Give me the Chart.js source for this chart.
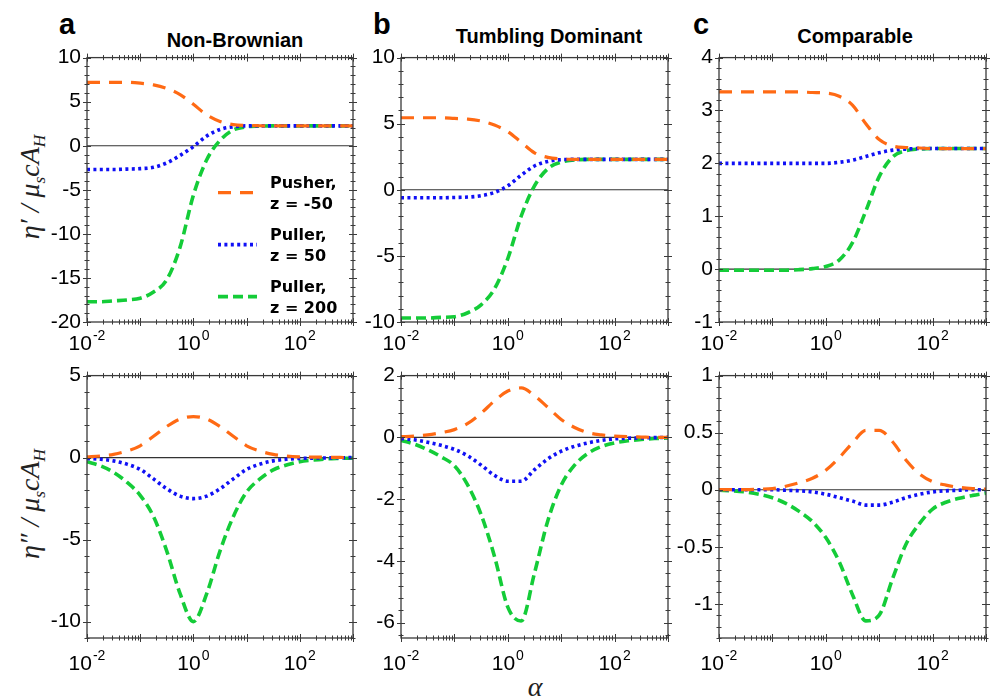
<!DOCTYPE html>
<html>
<head>
<meta charset="utf-8">
<script src="https://cdn.jsdelivr.net/npm/chart.js@4.4.1/dist/chart.umd.min.js"></script>
<style>
  body { margin: 0; background: #fff; }
  #wrap { position: relative; width: 990px; height: 696px; overflow: hidden; background: #fff; }
  canvas { position: absolute; }
  .txt { position: absolute; white-space: nowrap; line-height: 1; color: #000; }
  .letter { font: bold 29px "Liberation Sans", Arial, sans-serif; }
  .title { font: bold 20px "Liberation Sans", Arial, sans-serif; transform: translateX(-50%); }
  .ylab { font: italic 28px "Liberation Serif", serif; color: #222; transform: translate(-50%, -50%) rotate(-90deg); }
  .ylab sub { font-size: 0.62em; vertical-align: -0.3em; }
  .xlab { font: italic 28px "Liberation Serif", serif; color: #222; transform: translateX(-50%); }
</style>
</head>
<body>
<div id="wrap">
  <div class="txt letter" style="left:59px;top:8px">a</div>
  <div class="txt letter" style="left:373px;top:8px">b</div>
  <div class="txt letter" style="left:693px;top:8px">c</div>
  <div class="txt title" style="left:235px;top:29px">Non-Brownian</div>
  <div class="txt title" style="left:549px;top:25px">Tumbling Dominant</div>
  <div class="txt title" style="left:855px;top:25px">Comparable</div>
  <div class="txt ylab" style="left:32px;top:187px">η′ / μ<sub>s</sub>cA<sub>H</sub></div>
  <div class="txt ylab" style="left:32px;top:504px">η″ / μ<sub>s</sub>cA<sub>H</sub></div>
  <div class="txt xlab" style="left:535px;top:671px">α</div>
</div>
<script>
// shared alpha grid (quarter decades)
const alpha = [0.01, 0.0178, 0.0316, 0.0562, 0.1, 0.178, 0.316, 0.562, 1, 1.78, 3.16, 5.62,
  10, 17.8, 31.6, 56.2, 100, 178, 316, 562, 1000];

// top row: eta'
const pusherA = [7.2, 7.2, 7.2, 7.2, 7.1, 6.9, 6.5, 5.8, 4.7, 3.5, 2.75, 2.4, 2.3, 2.27, 2.25, 2.25, 2.25, 2.25, 2.25, 2.25, 2.25];
const pullerA = [-2.7, -2.7, -2.7, -2.65, -2.6, -2.45, -1.95, -1.1, -0.1, 1.1, 1.85, 2.15, 2.25, 2.25, 2.25, 2.25, 2.25, 2.25, 2.25, 2.25, 2.25];
const puller200A = [-17.7, -17.7, -17.6, -17.5, -17.3, -16.6, -15.2, -11.5, -5.6, -1.6, 0.6, 1.8, 2.15, 2.22, 2.25, 2.25, 2.25, 2.25, 2.25, 2.25, 2.25];

const pusherB = [5.45, 5.45, 5.45, 5.45, 5.4, 5.35, 5.2, 4.9, 4.4, 3.6, 2.8, 2.45, 2.33, 2.3, 2.3, 2.3, 2.3, 2.3, 2.3, 2.3, 2.3];
const pullerB = [-0.6, -0.6, -0.6, -0.6, -0.58, -0.55, -0.45, -0.2, 0.3, 1.1, 1.8, 2.15, 2.28, 2.3, 2.3, 2.3, 2.3, 2.3, 2.3, 2.3, 2.3];
const puller200B = [-9.7, -9.7, -9.7, -9.65, -9.6, -9.3, -8.7, -7.5, -5.2, -2.0, 0.3, 1.6, 2.1, 2.25, 2.3, 2.3, 2.3, 2.3, 2.3, 2.3, 2.3];

const pusherC = [3.35, 3.35, 3.35, 3.35, 3.35, 3.35, 3.35, 3.34, 3.33, 3.27, 3.1, 2.75, 2.45, 2.33, 2.3, 2.29, 2.28, 2.28, 2.28, 2.28, 2.28];
const pullerC = [2.0, 2.0, 2.0, 2.0, 2.0, 2.0, 2.0, 2.0, 2.0, 2.02, 2.06, 2.13, 2.2, 2.25, 2.27, 2.28, 2.28, 2.28, 2.28, 2.28, 2.28];
const puller200C = [-0.02, -0.02, -0.02, -0.02, -0.02, -0.02, -0.01, 0.01, 0.05, 0.17, 0.5, 1.1, 1.75, 2.12, 2.24, 2.27, 2.28, 2.28, 2.28, 2.28, 2.28];

// bottom row: eta''
const pusherA2 = [0.05, 0.1, 0.2, 0.4, 0.72, 1.3, 1.9, 2.35, 2.5, 2.35, 1.9, 1.3, 0.72, 0.4, 0.2, 0.1, 0.05, 0.03, 0.02, 0.01, 0];
const pullerA2 = [-0.05, -0.1, -0.2, -0.4, -0.72, -1.3, -1.9, -2.35, -2.5, -2.35, -1.9, -1.3, -0.72, -0.4, -0.2, -0.1, -0.05, -0.03, -0.02, -0.01, 0];
const puller200A2 = [-0.25, -0.5, -0.9, -1.5, -2.3, -3.6, -5.7, -8.3, -10, -8.3, -5.7, -3.6, -2.1, -1.3, -0.75, -0.45, -0.25, -0.15, -0.08, -0.05, -0.03];

const pusherB2 = [0.02, 0.04, 0.08, 0.15, 0.25, 0.45, 0.78, 1.18, 1.5, 1.6, 1.35, 0.97, 0.58, 0.32, 0.15, 0.08, 0.04, 0.02, 0.01, 0, 0];
const pullerB2 = [-0.04, -0.08, -0.16, -0.26, -0.39, -0.6, -0.9, -1.23, -1.42, -1.42, -1.05, -0.7, -0.45, -0.29, -0.18, -0.1, -0.05, -0.03, -0.02, -0.01, 0];
const puller200B2 = [-0.1, -0.22, -0.4, -0.63, -0.92, -1.55, -2.5, -3.85, -5.5, -5.95, -4.4, -2.7, -1.55, -0.9, -0.52, -0.3, -0.18, -0.11, -0.07, -0.04, -0.02];

const pusherC2 = [0, 0, 0, 0.005, 0.01, 0.03, 0.06, 0.1, 0.17, 0.28, 0.41, 0.52, 0.52, 0.42, 0.26, 0.14, 0.07, 0.04, 0.02, 0.01, 0.005];
const pullerC2 = [0, 0, 0, 0, 0, -0.005, -0.01, -0.02, -0.04, -0.07, -0.1, -0.135, -0.135, -0.11, -0.07, -0.04, -0.02, -0.01, -0.005, 0, 0];
const puller200C2 = [-0.005, -0.01, -0.02, -0.04, -0.07, -0.12, -0.19, -0.28, -0.42, -0.63, -0.92, -1.15, -1.1, -0.78, -0.48, -0.3, -0.17, -0.11, -0.075, -0.05, -0.03];

// axis ticks
const yTicksTop = [[-20, -15, -10, -5, 0, 5, 10], [-10, -5, 0, 5, 10], [-1, 0, 1, 2, 3, 4]];
const yTicksBottom = [[-10, -5, 0, 5], [-6, -4, -2, 0, 2], [-1, -0.5, 0, 0.5, 1]];
const xTickLabels = [0.01, 1, 100];
const xTickExp = ['-2', '0', '2'];
const legendLabels = [['Pusher,', 'z = -50'], ['Puller,', 'z = 50'], ['Puller,', 'z = 200']];

const styles = [
  { borderColor: '#ff6a14', borderWidth: 3.2, borderDash: [13, 9] },
  { borderColor: '#1010f5', borderWidth: 3.6, borderDash: [3, 3.4] },
  { borderColor: '#14cc38', borderWidth: 3.6, borderDash: [10, 5] }
];

const colLeft = [87, 401, 719];
const colRight = [353, 668, 986];
const rowTop = [53, 371];
const rowBottom = [322, 638];
const PAD_TOP = 14, PAD_RIGHT = 4, Y_W = 60, X_H = 40;
const TICK_FONT = '"Liberation Sans", Arial, sans-serif';

const axisFrame = {
  id: 'axisFrame',
  beforeDatasetsDraw(chart, args, opts) {
    const { ctx, chartArea: a, scales: { y } } = chart;
    const y0 = y.getPixelForValue(0);
    ctx.save();
    ctx.strokeStyle = '#333';
    ctx.lineWidth = 1.1;
    ctx.beginPath();
    ctx.moveTo(a.left, y0);
    ctx.lineTo(a.right, y0);
    ctx.stroke();
    ctx.restore();
  },
  afterDatasetsDraw(chart, args, opts) {
    const { ctx, chartArea: a, scales: { x, y } } = chart;
    ctx.save();
    ctx.strokeStyle = '#3a3a3a';
    ctx.lineWidth = 1.3;
    ctx.strokeRect(a.left, a.top, a.right - a.left, a.bottom - a.top);

    ctx.lineWidth = 1;
    const tick = (x1, y1, x2, y2) => { ctx.moveTo(x1, y1); ctx.lineTo(x2, y2); };
    ctx.beginPath();
    // x ticks (log decades + minors)
    for (let n = -2; n <= 3; n++) {
      for (let k = 1; k <= 9; k++) {
        const v = k * Math.pow(10, n);
        if (v > 1000 * 1.0001) break;
        const px = Math.round(x.getPixelForValue(v)) + 0.5;
        const len = k === 1 ? 4 : 2.5;
        tick(px, a.bottom - len, px, a.bottom + len);
        tick(px, a.top - len, px, a.top + len);
      }
    }
    // y ticks
    const step = opts.yMinor;
    const start = Math.ceil(y.min / step - 1e-6);
    const end = Math.floor(y.max / step + 1e-6);
    for (let i = start; i <= end; i++) {
      const v = i * step;
      const py = Math.round(y.getPixelForValue(v)) + 0.5;
      const major = opts.yMajor.some(m => Math.abs(m - v) < 1e-6);
      const len = major ? 4 : 2.5;
      tick(a.left - len, py, a.left + len, py);
      tick(a.right - len, py, a.right + len, py);
    }
    ctx.stroke();

    // x tick labels with superscripts
    ctx.fillStyle = '#000';
    ctx.textBaseline = 'alphabetic';
    xTickLabels.forEach((v, i) => {
      const px = x.getPixelForValue(v);
      ctx.font = '21px ' + TICK_FONT;
      const wb = ctx.measureText('10').width;
      ctx.font = '14px ' + TICK_FONT;
      const we = ctx.measureText(xTickExp[i]).width;
      const x0 = px - (wb + we + 1) / 2;
      const base = a.bottom + opts.labelOffset;
      ctx.font = '21px ' + TICK_FONT;
      ctx.fillText('10', x0, base);
      ctx.font = '14px ' + TICK_FONT;
      ctx.fillText(xTickExp[i], x0 + wb + 1, base - 10);
    });

    // legend
    if (opts.legend) {
      const sets = chart.data.datasets;
      const rows = [135, 187, 239];
      legendLabels.forEach((lab, i) => {
        const ds = sets[i];
        const ly = a.top + rows[i];
        ctx.beginPath();
        ctx.strokeStyle = ds.borderColor;
        ctx.lineWidth = ds.borderWidth;
        ctx.setLineDash(ds.borderDash);
        ctx.moveTo(a.left + 131, ly);
        ctx.lineTo(a.left + 170, ly);
        ctx.stroke();
        ctx.setLineDash([]);
        ctx.fillStyle = '#000';
        ctx.font = 'bold 16px "DejaVu Sans", sans-serif';
        ctx.fillText(lab[0], a.left + 183, ly - 5);
        ctx.fillText(lab[1], a.left + 183, ly + 16);
      });
    }
    ctx.restore();
  }
};

function makeDatasets(vals) {
  return vals.map((v, i) => ({
    data: alpha.map((a, j) => ({ x: a, y: v[j] })),
    borderColor: styles[i].borderColor,
    borderWidth: styles[i].borderWidth,
    borderDash: styles[i].borderDash,
    borderCapStyle: 'butt',
    pointRadius: 0,
    fill: false,
    cubicInterpolationMode: 'monotone'
  }));
}

function makePanel(col, row, vals, yMin, yMax, yMajor, yMinor, legend) {
  const w = colRight[col] - colLeft[col] + Y_W + PAD_RIGHT;
  const h = rowBottom[row] - rowTop[row] + PAD_TOP + X_H;
  const cv = document.createElement('canvas');
  cv.width = w;
  cv.height = h;
  cv.style.left = (colLeft[col] - Y_W) + 'px';
  cv.style.top = (rowTop[row] - PAD_TOP) + 'px';
  document.getElementById('wrap').appendChild(cv);

  new Chart(cv.getContext('2d'), {
    type: 'line',
    data: { datasets: makeDatasets(vals) },
    options: {
      responsive: false,
      animation: false,
      layout: { padding: { top: PAD_TOP, right: PAD_RIGHT, left: 0, bottom: 0 } },
      plugins: {
        legend: { display: false },
        tooltip: { enabled: false },
        axisFrame: { yMajor, yMinor, legend, labelOffset: row === 0 ? 28 : 32 }
      },
      scales: {
        x: {
          type: 'logarithmic',
          min: 0.01,
          max: 1000,
          grid: { display: false, drawTicks: false },
          border: { display: false },
          ticks: { display: false },
          afterFit: s => { s.height = X_H; }
        },
        y: {
          type: 'linear',
          min: yMin,
          max: yMax,
          grid: { display: false, drawTicks: false },
          border: { display: false },
          afterBuildTicks: s => { s.ticks = yMajor.map(v => ({ value: v })); },
          afterFit: s => { s.width = Y_W; },
          ticks: {
            padding: 6,
            color: '#000',
            font: { family: TICK_FONT, size: 21 },
            callback: v => String(v)
          }
        }
      }
    },
    plugins: [axisFrame]
  });
}

makePanel(0, 0, [pusherA, pullerA, puller200A], -20, 10, yTicksTop[0], 1, true);
makePanel(1, 0, [pusherB, pullerB, puller200B], -10, 10, yTicksTop[1], 1, false);
makePanel(2, 0, [pusherC, pullerC, puller200C], -1, 4, yTicksTop[2], 0.2, false);
makePanel(0, 1, [pusherA2, pullerA2, puller200A2], -11, 5, yTicksBottom[0], 1, false);
makePanel(1, 1, [pusherB2, pullerB2, puller200B2], -6.5, 2, yTicksBottom[1], 0.4, false);
makePanel(2, 1, [pusherC2, pullerC2, puller200C2], -1.3, 1, yTicksBottom[2], 0.1, false);
</script>
</body>
</html>
